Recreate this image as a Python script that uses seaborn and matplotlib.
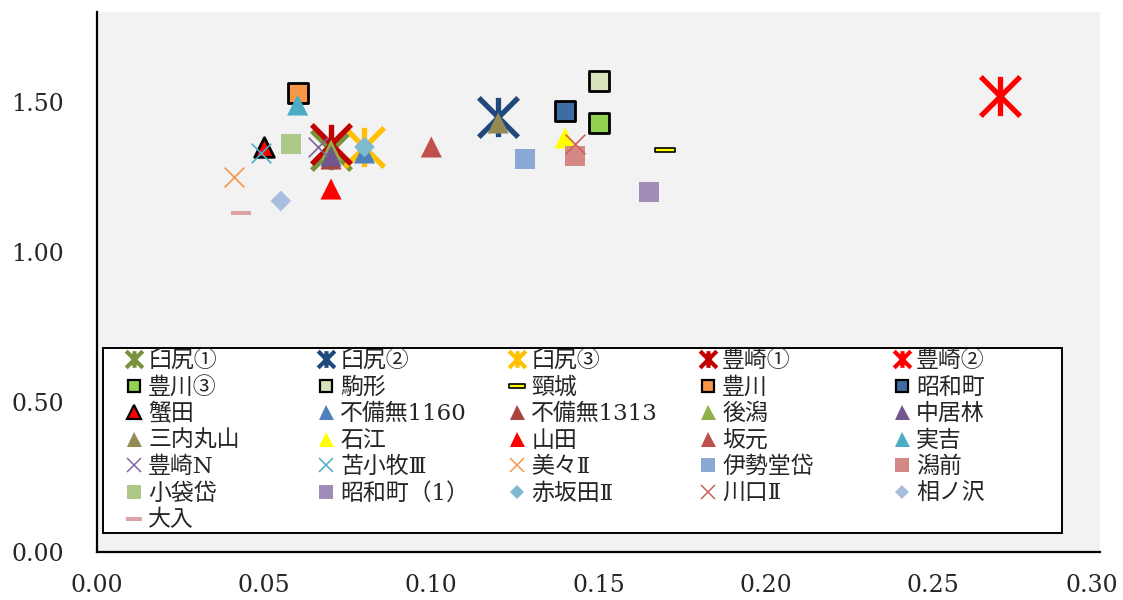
import matplotlib
matplotlib.use("Agg")
import matplotlib.pyplot as plt
from matplotlib.path import Path
from matplotlib.lines import Line2D
from matplotlib.patches import Rectangle
from matplotlib.transforms import ScaledTranslation
from matplotlib.ticker import MultipleLocator, FormatStrFormatter
import seaborn as sns

# --- data -----------------------------------------------------------------
sites = [
    "臼尻①", "臼尻②", "臼尻③", "豊崎①", "豊崎②",
    "豊川③", "駒形", "頸城", "豊川", "昭和町",
    "蟹田", "不備無1160", "不備無1313", "後潟", "中居林",
    "三内丸山", "石江", "山田", "坂元", "実吉",
    "豊崎N", "苫小牧Ⅲ", "美々Ⅱ", "伊勢堂岱", "潟前",
    "小袋岱", "昭和町（1）", "赤坂田Ⅱ", "川口Ⅱ", "相ノ沢",
    "大入",
]
x_vals = [
    0.070, 0.120, 0.080, 0.070, 0.270,
    0.150, 0.150, 0.170, 0.060, 0.140,
    0.050, 0.080, 0.070, 0.070, 0.070,
    0.120, 0.140, 0.070, 0.100, 0.060,
    0.066, 0.049, 0.041, 0.128, 0.143,
    0.058, 0.165, 0.080, 0.143, 0.055,
    0.043,
]
y_vals = [
    1.34, 1.45, 1.35, 1.36, 1.52,
    1.43, 1.57, 1.34, 1.53, 1.47,
    1.35, 1.33, 1.31, 1.34, 1.32,
    1.43, 1.38, 1.21, 1.35, 1.49,
    1.35, 1.33, 1.25, 1.31, 1.32,
    1.36, 1.20, 1.35, 1.36, 1.17,
    1.13,
]
x_ticks = [0.00, 0.05, 0.10, 0.15, 0.20, 0.25, 0.30]
y_ticks = [0.00, 0.50, 1.00, 1.50]

# --- styles ---------------------------------------------------------------
colors = [
    "#77933C", "#1F497D", "#FFC000", "#C00000", "#FF0000",
    "#92D050", "#D7E4BD", "#FFFF00", "#F79646", "#3F6CA3",
    "#FF0000", "#4F81BD", "#A94440", "#8DB04A", "#72578F",
    "#948A54", "#FFFF00", "#FF0000", "#C0504D", "#4BACC6",
    "#8064A2", "#4BACC6", "#F79646", "#8AA8D4", "#D48886",
    "#ADC98A", "#A08DB8", "#7DB9CF", "#D0605A", "#A9BEDF",
    "#DBA3A3",
]
kinds = [
    "ast", "ast", "ast", "ast", "ast",
    "sqb", "sqb", "dashb", "sqb", "sqb",
    "trib", "tri", "tri", "tri", "tri",
    "tri", "tri", "tri", "tri", "tri",
    "x", "x", "x", "sq", "sq",
    "sq", "sq", "dia", "x", "dia",
    "dash",
]

asterisk = Path(
    [(-1, -1), (1, 1), (-1, 1), (1, -1), (0, -1), (0, 1)],
    [Path.MOVETO, Path.LINETO] * 3,
)
bar = Path(
    [(-1, -0.22), (1, -0.22), (1, 0.22), (-1, 0.22), (-1, -0.22)],
    [Path.MOVETO, Path.LINETO, Path.LINETO, Path.LINETO, Path.CLOSEPOLY],
)

# marker, plot size (pt^2), edge colour, edge width, legend size, legend edge width
kind_style = {
    "ast":   (asterisk, 800, None, 3.8, 12, 3.0),
    "sqb":   ("s", 190, "black", 2.0, 9, 1.6),
    "sq":    ("s", 210, None, 0.0, 10, 0.0),
    "dashb": (bar, 210, "black", 1.2, 11, 1.2),
    "dash":  (bar, 200, None, 0.0, 11, 0.0),
    "trib":  ("^", 200, "black", 2.0, 10, 1.6),
    "tri":   ("^", 230, None, 0.0, 10.8, 0.0),
    "x":     ("x", 200, None, 1.2, 10, 1.1),
    "dia":   ("D", 110, None, 0.0, 7.5, 0.0),
}

sns.set_theme(style="white")
font_list = ["DejaVu Serif", "Noto Sans CJK JP"]
plt.rcParams["font.family"] = font_list

W, H = 1123, 600
AX_L, AX_R, AX_T, AX_B = 97, 1100, 12, 552
fig = plt.figure(figsize=(W / 100, H / 100), dpi=100)
ax = fig.add_axes([AX_L / W, (H - AX_B) / H, (AX_R - AX_L) / W, (AX_B - AX_T) / H])
ax.set_facecolor("#F2F2F2")


def ax_frac(px, py):
    """Pixel position in the figure -> axes fraction."""
    return (px - AX_L) / (AX_R - AX_L), (AX_B - py) / (AX_B - AX_T)


handles = []
for i, (name, xv, yv, c, k) in enumerate(zip(sites, x_vals, y_vals, colors, kinds)):
    m, s, ec, lw, lms, lmew = kind_style[k]
    kws = dict(marker=m, s=s, color=c, linewidth=lw, zorder=3 + i, ax=ax, legend=False)
    if k == "ast":
        kws["edgecolor"] = c
    elif k != "x":
        kws["edgecolor"] = ec if ec else "none"
    sns.scatterplot(x=[xv], y=[yv], **kws)

    if k == "x":
        h = Line2D([], [], ls="none", marker=m, markersize=lms,
                   markeredgecolor=c, markeredgewidth=lmew)
    elif k == "ast":
        h = Line2D([], [], ls="none", marker=m, markersize=lms,
                   markeredgecolor=c, markerfacecolor=c, markeredgewidth=lmew)
    else:
        h = Line2D([], [], ls="none", marker=m, markersize=lms,
                   markerfacecolor=c, markeredgecolor=ec if ec else c,
                   markeredgewidth=lmew if ec else 0.0)
    handles.append(h)

# axes, ticks and spines
ax.set_xlim(0, 0.30)
ax.set_ylim(0, 1.8)
ax.set_xticks(x_ticks)
ax.set_yticks(y_ticks)
ax.xaxis.set_minor_locator(MultipleLocator(0.01))
ax.yaxis.set_minor_locator(MultipleLocator(0.1))
ax.xaxis.set_major_formatter(FormatStrFormatter("%.2f"))
ax.yaxis.set_major_formatter(FormatStrFormatter("%.2f"))
ax.tick_params(which="both", direction="in", length=5, width=1.2, color="black",
               top=False, right=False)
ax.tick_params(axis="x", which="major", labelsize=17, pad=16)
ax.tick_params(axis="y", which="major", labelsize=17, pad=24)
for side in ("top", "right"):
    ax.spines[side].set_visible(False)
for side in ("left", "bottom"):
    ax.spines[side].set_color("black")
    ax.spines[side].set_linewidth(1.6)
ax.set_xlabel("")
ax.set_ylabel("")

# legend: a framed box holding five columns, filled row by row
box_x0, box_y0 = ax_frac(103, 533)
box_x1, box_y1 = ax_frac(1062, 348)
ax.add_patch(Rectangle((box_x0, box_y0), box_x1 - box_x0, box_y1 - box_y0,
                       transform=ax.transAxes, facecolor="white", edgecolor="black",
                       linewidth=1.4, zorder=90, clip_on=False))

ncol = 5
col_px = [124, 316, 507, 698, 892]
_, top_y = ax_frac(0, 350)
legends = []
for c in range(ncol):
    idx = list(range(c, len(sites), ncol))
    lx, _ = ax_frac(col_px[c], 0)
    leg = ax.legend(
        [handles[i] for i in idx], [sites[i] for i in idx],
        loc="upper left", bbox_to_anchor=(lx, top_y), borderaxespad=0,
        frameon=False, prop={"family": font_list, "size": 16.5},
        handlelength=0.9, handletextpad=0.16, labelspacing=0.2, borderpad=0,
    )
    leg.set_zorder(100)
    legends.append(leg)
for leg in legends[:-1]:
    ax.add_artist(leg)

# nudge the rightmost x label so it stays inside the figure
fig.canvas.draw()
for tick in ax.xaxis.get_major_ticks():
    if abs(tick.get_loc() - x_ticks[-1]) < 1e-9:
        lab = tick.label1
        lab.set_transform(lab.get_transform()
                          + ScaledTranslation(-8 / 100, 0, fig.dpi_scale_trans))

fig.savefig("out.png", dpi=100)
